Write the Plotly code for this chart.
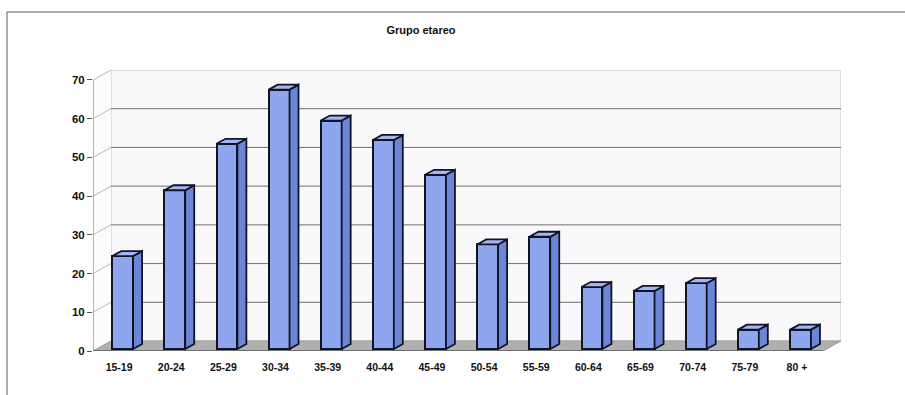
import plotly.graph_objects as go

# Age-group counts
categories = ["15-19", "20-24", "25-29", "30-34", "35-39", "40-44", "45-49",
              "50-54", "55-59", "60-64", "65-69", "70-74", "75-79", "80 +"]
counts = [24, 41, 53, 67, 59, 54, 45, 27, 29, 16, 15, 17, 5, 5]
y_ticks = [0, 10, 20, 30, 40, 50, 60, 70]
title_text = "Grupo etareo"

# Pseudo-3D geometry (in data units)
DX = 0.345          # depth shift along x (categories)
DY = 2.58           # depth shift along y (value units)
F0, F1 = 0.2, 0.7   # bar front / back depth fractions
BAR_W = 0.40
YMAX = 70

n = len(categories)
x_lo, x_hi = -0.5, n - 0.5

FRONT = "#8ea6ee"
SIDE = "#6d85d6"
TOP = "#a3b6f3"
EDGE = "#111426"

fig = go.Figure()

# Front faces of the columns
x_front = [i + F0 * DX for i in range(n)]
base = F0 * DY
fig.add_trace(go.Bar(
    x=x_front, y=counts, base=[base] * n, width=BAR_W,
    marker=dict(color=FRONT, line=dict(color=EDGE, width=2)),
    hoverinfo="skip", showlegend=False,
))

# Side and top faces
dxs = (F1 - F0) * DX
dys = (F1 - F0) * DY
sx, sy, tx, ty = [], [], [], []
for xc, v in zip(x_front, counts):
    xl, xr = xc - BAR_W / 2, xc + BAR_W / 2
    top = base + v
    sx += [xr, xr + dxs, xr + dxs, xr, xr, None]
    sy += [base, base + dys, top + dys, top, base, None]
    tx += [xl, xr, xr + dxs, xl + dxs, xl, None]
    ty += [top, top, top + dys, top + dys, top, None]
fig.add_trace(go.Scatter(x=sx, y=sy, mode="lines", fill="toself", fillcolor=SIDE,
                         line=dict(color=EDGE, width=1.8), hoverinfo="skip",
                         showlegend=False))
fig.add_trace(go.Scatter(x=tx, y=ty, mode="lines", fill="toself", fillcolor=TOP,
                         line=dict(color=EDGE, width=1.8), hoverinfo="skip",
                         showlegend=False))

shapes = []
# back wall
shapes.append(dict(type="path", layer="below", xref="x", yref="y",
                   path=f"M{x_lo+DX},{DY} L{x_hi+DX},{DY} L{x_hi+DX},{YMAX+DY} L{x_lo+DX},{YMAX+DY} Z",
                   fillcolor="#f9f9fb", line=dict(color="#c8c8cc", width=1)))
# side wall
shapes.append(dict(type="path", layer="below", xref="x", yref="y",
                   path=f"M{x_lo},0 L{x_lo+DX},{DY} L{x_lo+DX},{YMAX+DY} L{x_lo},{YMAX} Z",
                   fillcolor="#fcfcfd", line=dict(width=0)))
# gridlines on back wall and side wall
for v in y_ticks[1:]:
    col = "#707070" if v < YMAX else "#c8c8cc"
    shapes.append(dict(type="line", layer="below", xref="x", yref="y",
                       x0=x_lo + DX, x1=x_hi + DX, y0=v + DY, y1=v + DY,
                       line=dict(color=col, width=1)))
    shapes.append(dict(type="line", layer="below", xref="x", yref="y",
                       x0=x_lo, x1=x_lo + DX, y0=v, y1=v + DY,
                       line=dict(color="#b8b8b8", width=1)))
# floor
shapes.append(dict(type="path", layer="below", xref="x", yref="y",
                   path=f"M{x_lo},0 L{x_hi},0 L{x_hi+DX},{DY} L{x_lo+DX},{DY} Z",
                   fillcolor="#b0b0b0", line=dict(color="#9a9a9a", width=1)))
# front axis lines
shapes.append(dict(type="line", layer="below", xref="x", yref="y",
                   x0=x_lo, x1=x_hi, y0=0, y1=0, line=dict(color="#3a3a3a", width=1.2)))
shapes.append(dict(type="line", layer="below", xref="x", yref="y",
                   x0=x_lo, x1=x_lo, y0=0, y1=YMAX, line=dict(color="#6a6a6a", width=1)))
# outer frame
shapes.append(dict(type="line", xref="paper", yref="paper",
                   x0=-0.115, x1=1.1, y0=1.2064, y1=1.2064, line=dict(color="#5a5a5a", width=1)))
shapes.append(dict(type="line", xref="paper", yref="paper",
                   x0=-0.115, x1=-0.115, y0=1.2064, y1=-0.2, line=dict(color="#5a5a5a", width=1)))

label_font = dict(family="Liberation Sans, Arial, sans-serif", size=10.5, color="#111111", weight="bold")

fig.update_layout(
    width=905, height=395,
    margin=dict(l=93, r=64, t=70, b=44),
    paper_bgcolor="white", plot_bgcolor="white",
    bargap=0,
    title=dict(text=title_text, x=421 / 905, xref="container", xanchor="center",
               y=1 - 30 / 395, yref="container", yanchor="middle",
               font=dict(family="Liberation Sans, Arial, sans-serif", size=11,
                         color="#111111", weight="bold")),
    xaxis=dict(range=[x_lo, x_hi + DX], showgrid=False, zeroline=False, showline=False,
               tickmode="array", tickvals=list(range(n)), ticktext=categories,
               ticks="outside", ticklen=6, tickcolor="rgba(0,0,0,0)",
               tickfont=label_font, fixedrange=True),
    xaxis2=dict(range=[x_lo, x_hi + DX], overlaying="x", anchor="y", side="bottom",
                showgrid=False, zeroline=False, showline=False,
                tickmode="array", tickvals=[i + 0.5 for i in range(n)],
                ticks="outside", ticklen=4, tickcolor="#555555", showticklabels=False),
    yaxis=dict(range=[0, YMAX + DY], showgrid=False, zeroline=False, showline=False,
               tickmode="array", tickvals=y_ticks, ticks="outside", ticklen=5,
               tickcolor="#555555",
               tickfont=dict(family="Liberation Sans, Arial, sans-serif", size=11.5,
                             color="#111111", weight="bold"), fixedrange=True),
    shapes=shapes,
)

fig.write_html("out.html")
